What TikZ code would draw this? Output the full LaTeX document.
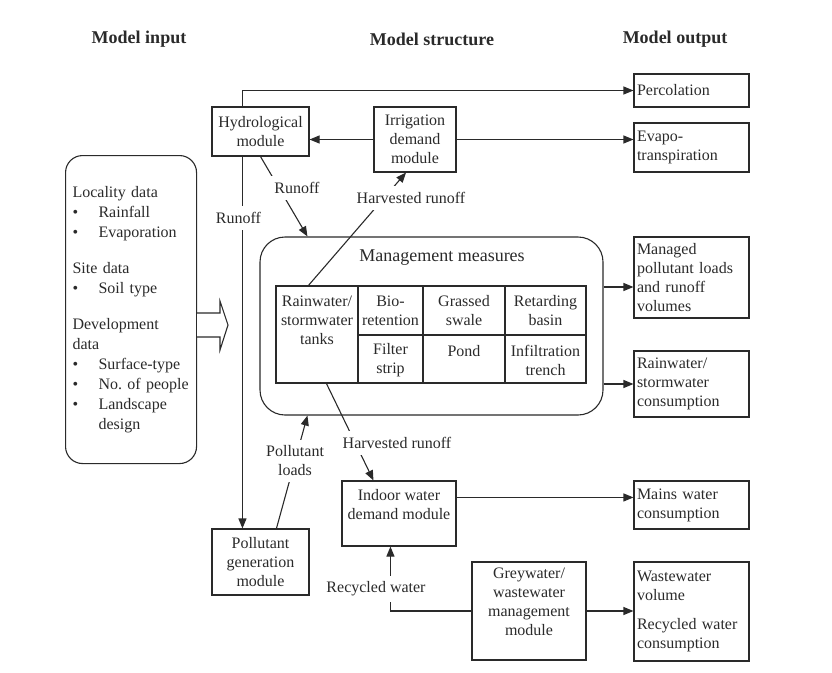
\documentclass[tikz,border=0pt]{standalone}
\usepackage{fontspec}
\setmainfont{Liberation Serif}
\usetikzlibrary{arrows.meta,calc}
\definecolor{ink}{HTML}{2A2A2A}
\newcommand{\ibul}{\makebox[26pt][l]{\textbullet}}
\begin{document}
\begin{tikzpicture}[x=1pt,y=-1pt,
  every node/.style={font=\fontsize{16}{19}\selectfont, text=ink},
  box/.style={draw=ink,line width=1.1pt,align=center,inner sep=2pt},
  outbox/.style={draw=ink,line width=1.1pt,align=left,text width=109pt,inner xsep=3pt,inner ysep=2pt,minimum width=115pt},
  conn/.style={draw=ink,line width=1.1pt},
  arr/.style={conn,-{Triangle[length=10pt,width=8pt]}},
  lbl/.style={fill=white,inner xsep=3pt,inner ysep=6pt,align=center},
  cell/.style={align=center,inner sep=1pt},
  head/.style={font=\fontsize{18}{20}\selectfont\bfseries}
]
\useasboundingbox (0,0) rectangle (832,672);

% headings
\node[head] (hin) at (139,39) {Model input};
\node[head] (hst) at (432,39) {Model structure};
\node[head] (hout) at (675,39) {Model output};

% input box
\node[box, rounded corners=17pt, minimum width=131pt, minimum height=308pt,
      align=left, text width=117pt, inner xsep=7pt, anchor=north west,
      font=\fontsize{16}{20}\selectfont] (input) at (65,155) {%
Locality data\\
\ibul Rainfall\\
\ibul Evaporation\\[16pt]
Site data\\
\ibul Soil type\\[16pt]
Development\\
data\\
\ibul Surface-type\\
\ibul No.\ of people\\
\ibul Landscape\\
\hspace*{26pt}design};

% fat arrow
\draw[conn, fill=white] (input.east |- 0,313) -- (220,313) -- (220,301) -- (228,325)
   -- (220,350) -- (220,337) -- (input.east |- 0,337);

% modules
\node[box, minimum width=97pt, minimum height=49pt] (hydro) at (260.5,131.5) {Hydrological\\module};
\node[box, minimum width=82pt, minimum height=65pt] (irrig) at (415,139.5) {Irrigation\\demand\\module};
\node[box, minimum width=114pt, minimum height=65pt] (indoor) at (399,513.5) {Indoor water\\demand module\\ \mbox{}};
\node[box, minimum width=97pt, minimum height=66pt] (pollut) at (260.5,562) {Pollutant\\generation\\module};
\node[box, inner ysep=1pt, minimum width=114pt, minimum height=98pt] (grey) at (529,611) {Greywater/\\wastewater\\management\\module\\ \mbox{}};

% outputs
\node[outbox, minimum height=33pt] (perc) at (691.5,90.5) {Percolation};
\node[outbox, minimum height=49pt] (evap) at (691.5,147.5) {Evapo-\\transpiration};
\node[outbox, minimum height=81pt] (managed) at (691.5,277.5) {Managed\\pollutant loads\\and runoff\\volumes};
\node[outbox, minimum height=66pt] (rwcons) at (691.5,384) {Rainwater/\\stormwater\\consumption};
\node[outbox, minimum height=48pt] (mains) at (691.5,505) {Mains water\\consumption};
\node[outbox, minimum height=99pt] (waste) at (691.5,611.5) {Wastewater\\volume\\[10pt]Recycled water\\consumption};

% management measures
\node[box, rounded corners=25pt, minimum width=343pt, minimum height=178pt] (mgmt) at (431.5,326) {};
\node[font=\fontsize{18}{20}\selectfont] (mtitle) at (442,258) {Management measures};
\node[draw=ink, line width=1.1pt, minimum width=310pt, minimum height=97pt, inner sep=0pt] (tbl) at (431,334.5) {};
\draw[conn] (358,286) -- (358,383);
\draw[conn] (423,286) -- (423,383);
\draw[conn] (505,286) -- (505,383);
\draw[conn] (358,335) -- (586,335);
\node[cell] (c1) at (317,320) {Rainwater/\\stormwater\\tanks};
\node[cell] (c2) at (390.5,311) {Bio-\\retention};
\node[cell] (c3) at (464,311) {Grassed\\swale};
\node[cell] (c4) at (545.5,311) {Retarding\\basin};
\node[cell] (c5) at (390.5,360) {Filter\\strip};
\node[cell] (c6) at (464,351) {Pond};
\node[cell] (c7) at (545.5,360) {Infiltration\\trench};

% helper coordinates
\coordinate (hx) at ($(hydro.north west)+(31,0)$);
\coordinate (mtop) at ($(mgmt.north west)+(48,0)$);
\coordinate (ttop) at ($(tbl.north west)+(33,0)$);
\coordinate (ibot) at ($(irrig.south)+(-9,0)$);
\coordinate (tbot) at ($(tbl.south west)+(51,0)$);
\coordinate (itop) at ($(indoor.north west)+(32,0)$);
\coordinate (ptop) at ($(pollut.north west)+(65,0)$);
\coordinate (mbot) at ($(mgmt.south west)+(48,0)$);
\coordinate (mo1) at ($(managed.west)+(0,9.5)$);
\coordinate (ieast) at ($(indoor.north east)+(0,17)$);
\coordinate (rx) at ($(indoor.south west)+(49,0)$);

% connectors
\draw[arr] (hx) |- (perc.west);
\draw[arr] (irrig.west) -- (irrig.west -| hydro.east);
\draw[arr] (irrig.east) -- (irrig.east -| evap.west);
\draw[arr] (hydro.south -| hx) -- (pollut.north -| hx)
   node[lbl, pos=0.165, xshift=-4pt] (runoffL) {Runoff};
\draw[arr] (hydro.south) -- (mtop);
\node[lbl] (runoffD) at (297,188) {Runoff};
\draw[arr] (ttop) -- (ibot);
\node[lbl] (harvT) at (411,198) {Harvested runoff};
\draw[arr] (tbot) -- (itop);
\node[lbl] (harvB) at (397,443) {Harvested runoff};
\draw[arr] (ptop) -- (mbot) node[lbl, pos=0.6] (ploads) {Pollutant\\loads};
\draw[arr] (mgmt.east |- mo1) -- (mo1);
\draw[arr] (mgmt.east |- rwcons.west) -- (rwcons.west);
\draw[arr] (ieast) -- (ieast -| mains.west);
\draw[arr] (grey.east) -- (grey.east -| waste.west);
\draw[arr] (grey.west) -| (rx);
\node[lbl] (recyc) at (376,589) {Recycled water};
\end{tikzpicture}
\end{document}
